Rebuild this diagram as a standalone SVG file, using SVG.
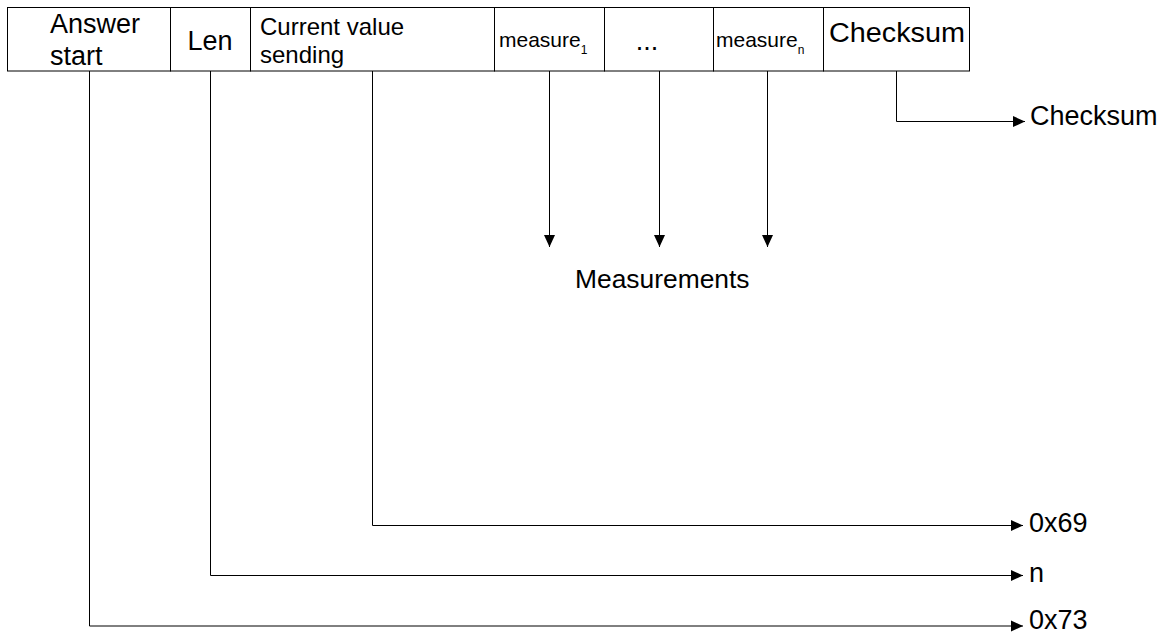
<svg xmlns="http://www.w3.org/2000/svg" width="1172" height="634" viewBox="0 0 1172 634">
<style>
text{font-family:"Liberation Sans",Arial,sans-serif;fill:#000}
.big{font-size:27px}
.mid{font-size:24px}
.sm{font-size:21px}
.sub{font-size:12px}
.cell{fill:#fff;stroke:#000;stroke-width:1}
.wire{fill:none;stroke:#000;stroke-width:1}
</style>
<defs>
<marker id="ah" markerUnits="userSpaceOnUse" markerWidth="12" markerHeight="12" refX="12" refY="6" orient="auto">
<path d="M0,0.5 L12,6 L0,11.5 Z" fill="#000"/>
</marker>
</defs>
<rect width="1172" height="634" fill="#fff"/>
<g id="frame">
<g id="answer-start"><rect class="cell" x="7.5" y="7.5" width="163" height="63.5"/><text class="big" x="50" y="33">Answer</text><text class="big" x="50" y="65">start</text></g>
<g id="len"><rect class="cell" x="170.5" y="7.5" width="80" height="63.5"/><text class="big" x="210" y="50" text-anchor="middle">Len</text></g>
<g id="current-value"><rect class="cell" x="250.5" y="7.5" width="244" height="63.5"/><text class="mid" x="260" y="35">Current value</text><text class="mid" x="260" y="63">sending</text></g>
<g id="measure1"><rect class="cell" x="494.5" y="7.5" width="110" height="63.5"/><text class="sm" x="499" y="47">measure<tspan class="sub" dy="7">1</tspan></text></g>
<g id="dots"><rect class="cell" x="604.5" y="7.5" width="109" height="63.5"/><text class="big" x="647" y="50" text-anchor="middle">...</text></g>
<g id="measuren"><rect class="cell" x="713.5" y="7.5" width="110" height="63.5"/><text class="sm" x="716" y="47">measure<tspan class="sub" dy="7">n</tspan></text></g>
<g id="checksum-field"><rect class="cell" x="823.5" y="7.5" width="146" height="63.5"/><text class="big" x="829" y="41.5" textLength="136" lengthAdjust="spacingAndGlyphs">Checksum</text></g>
</g>
<g id="connectors">
<path class="wire" d="M896.5,71 V121.5 H1025" marker-end="url(#ah)"/>
<path class="wire" d="M549.5,71 V247" marker-end="url(#ah)"/>
<path class="wire" d="M659.5,71 V247" marker-end="url(#ah)"/>
<path class="wire" d="M767.5,71 V247" marker-end="url(#ah)"/>
<path class="wire" d="M372.5,71 V525.5 H1023" marker-end="url(#ah)"/>
<path class="wire" d="M210.5,71 V575.5 H1023" marker-end="url(#ah)"/>
<path class="wire" d="M89.5,71 V626 H1023" marker-end="url(#ah)"/>
</g>
<g id="labels">
<text class="big" x="1030" y="125">Checksum</text>
<text class="big" x="575" y="288" style="font-size:26.4px">Measurements</text>
<text class="big" x="1029" y="532">0x69</text>
<text class="big" x="1029" y="582">n</text>
<text class="big" x="1029" y="628.5">0x73</text>
</g>
</svg>
